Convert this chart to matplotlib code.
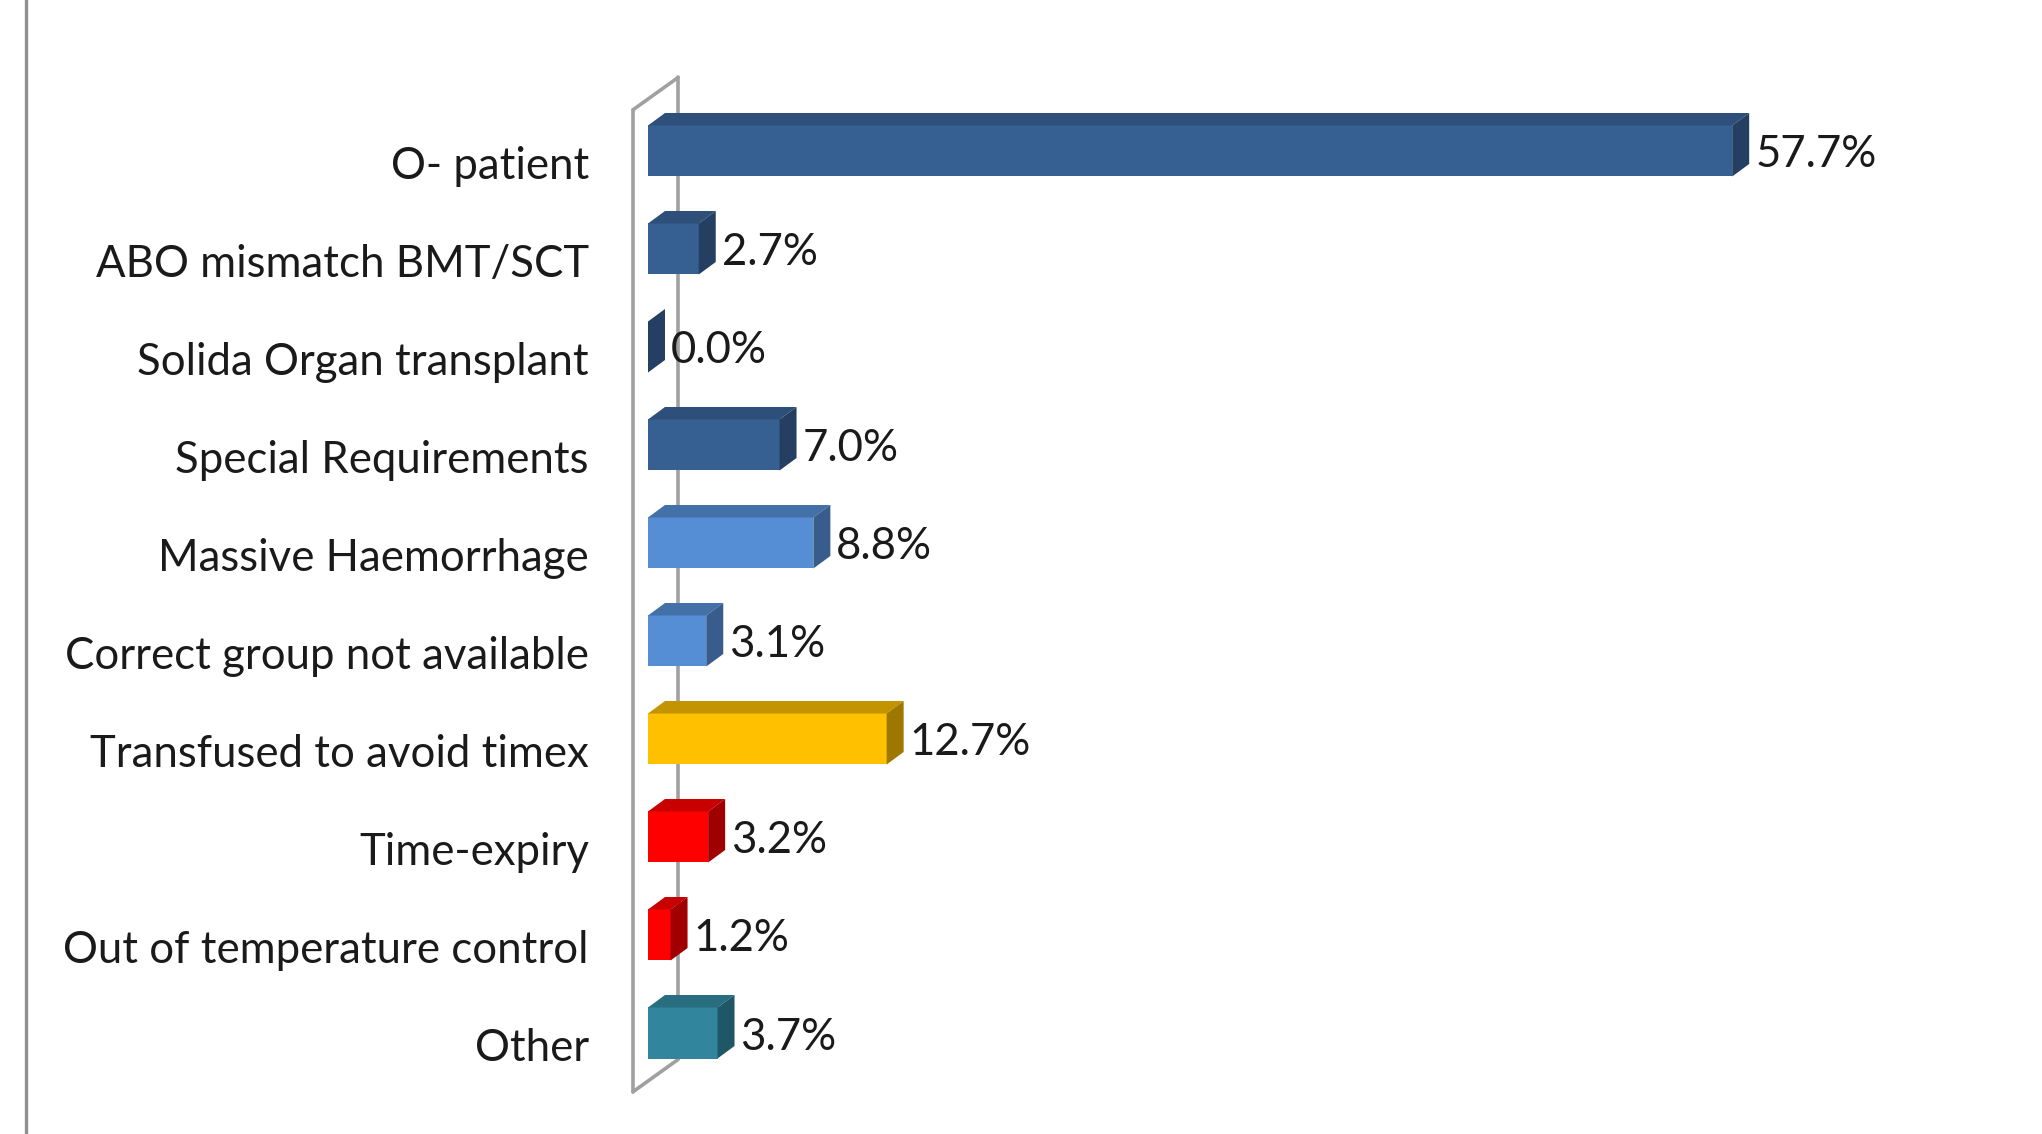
import numpy as np
import matplotlib
matplotlib.use("Agg")
import matplotlib.pyplot as plt
from matplotlib.patches import Polygon
from matplotlib.lines import Line2D

# ---- data ----
categories = [
    "O- patient",
    "ABO mismatch BMT/SCT",
    "Solida Organ transplant",
    "Special Requirements",
    "Massive Haemorrhage",
    "Correct group not available",
    "Transfused to avoid timex",
    "Time-expiry",
    "Out of temperature control",
    "Other",
]
values = [57.7, 2.7, 0.0, 7.0, 8.8, 3.1, 12.7, 3.2, 1.2, 3.7]
value_labels = ["57.7%", "2.7%", "0.0%", "7.0%", "8.8%", "3.1%", "12.7%", "3.2%", "1.2%", "3.7%"]

# face colours per bar: (front, top, side)
dark_blue = ("#376092", "#2d4f79", "#243f62")
light_blue = ("#558ed5", "#4470a8", "#385c8c")
gold = ("#ffc000", "#c49400", "#9e7700")
red = ("#ff0000", "#c80000", "#a00000")
teal = ("#31859c", "#286d80", "#1f5767")
bar_styles = [dark_blue, dark_blue, dark_blue, dark_blue,
              light_blue, light_blue, gold, red, red, teal]

# ---- layout (pixels) ----
W, H, DPI = 2042, 1134, 100
px_per_pct = 18.79          # horizontal scale
px_per_cat = 98.0           # vertical spacing of categories
zero_px = 648.0             # x pixel of value 0
first_px = 151.0            # y pixel (from top) of first bar centre
xlim = (-3.0, 70.0)
ylim = (10.0, -1.0)

fig = plt.figure(figsize=(W / DPI, H / DPI), dpi=DPI)
fig.patch.set_facecolor("white")

ax_left = zero_px + xlim[0] * px_per_pct
ax_width = (xlim[1] - xlim[0]) * px_per_pct
ax_top = first_px + ylim[1] * px_per_cat
ax_height = (ylim[0] - ylim[1]) * px_per_cat
ax = fig.add_axes([ax_left / W, 1 - (ax_top + ax_height) / H, ax_width / W, ax_height / H])
ax.set_xlim(*xlim)
ax.set_ylim(*ylim)
ax.set_facecolor("none")
for s in ax.spines.values():
    s.set_visible(False)
ax.set_xticks([])

# 3-D depth offsets in data units
dx = 17.0 / px_per_pct
dy = 12.5 / px_per_cat
bar_h = 51.0 / px_per_cat

# side wall of the 3-D plot area
wall_front_x, wall_back_x = -0.80, 1.60
wall_top, wall_bottom, wall_dy = -0.42, 9.60, 0.33
wall_kw = dict(color="#a0a0a0", lw=2.6, solid_capstyle="round", clip_on=False, zorder=1)
ax.add_line(Line2D([wall_back_x, wall_back_x], [wall_top - wall_dy, wall_bottom - wall_dy], **wall_kw))
ax.add_line(Line2D([wall_front_x, wall_back_x, wall_back_x], [wall_top, wall_top - wall_dy, wall_top - wall_dy], **wall_kw))
ax.add_line(Line2D([wall_front_x, wall_front_x], [wall_top, wall_bottom], **wall_kw))
ax.add_line(Line2D([wall_front_x, wall_back_x], [wall_bottom, wall_bottom - wall_dy], **wall_kw))

# bars: front faces
y = np.arange(len(categories))
fronts = [s[0] for s in bar_styles]
bars = ax.barh(y, values, height=bar_h, color=fronts, edgecolor="none", zorder=3)

# top and side faces built from each bar's rectangle
for rect, (front, top, side) in zip(bars, bar_styles):
    x0 = rect.get_x()
    x1 = x0 + rect.get_width()
    yt = rect.get_y()
    yb = yt + rect.get_height()
    top_face = Polygon([(x0, yt), (x0 + dx, yt - dy), (x1 + dx, yt - dy), (x1, yt)],
                       closed=True, facecolor=top, edgecolor="none", zorder=3, clip_on=False)
    side_face = Polygon([(x1, yt), (x1 + dx, yt - dy), (x1 + dx, yb - dy), (x1, yb)],
                        closed=True, facecolor=side, edgecolor="none", zorder=3, clip_on=False)
    ax.add_patch(top_face)
    ax.add_patch(side_face)

font = ["Lato", "DejaVu Sans"]
fsize = 31.5

# value labels right of each bar
for rect, lab in zip(bars, value_labels):
    x1 = rect.get_x() + rect.get_width()
    yc = rect.get_y() + rect.get_height() / 2
    ax.annotate(lab, xy=(x1 + dx, yc), xytext=(6, -4), textcoords="offset pixels",
                ha="left", va="center", fontsize=fsize, family=font, color="#1a1a1a", zorder=4)

# category labels
ax.set_yticks(y + 0.12)
ax.set_yticklabels(categories, fontsize=fsize, family=font, color="#1a1a1a")
ax.tick_params(axis="y", length=0, pad=2)

# outer frame line on the left edge
fig.add_artist(Line2D([25.5 / W, 25.5 / W], [0, 1], transform=fig.transFigure,
                      color="#8f8f8f", lw=2.4))

fig.savefig("out.png", dpi=DPI, facecolor="white")
